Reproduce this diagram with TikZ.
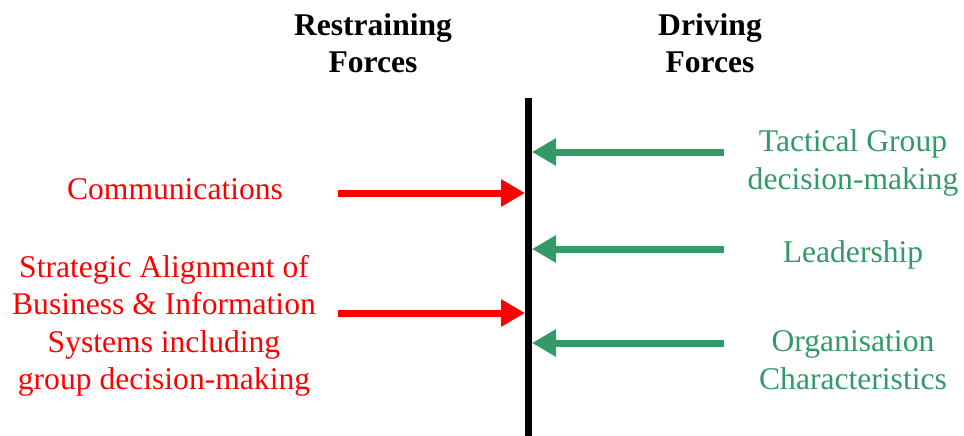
\documentclass[tikz,border=0pt]{standalone}
\usepackage{fontspec}
\setmainfont{Liberation Serif}
\usetikzlibrary{arrows.meta}
\definecolor{fgreen}{HTML}{339966}
\definecolor{fred}{HTML}{FF0000}
\begin{document}
\begin{tikzpicture}[x=1pt,y=-1pt,
  lbl/.style={font=\fontsize{31.6}{37.5}\selectfont, align=center, inner sep=0pt},
  head/.style={lbl, font=\fontsize{31.6}{37}\selectfont\bfseries},
  redlbl/.style={lbl, text=fred},
  greenlbl/.style={lbl, text=fgreen},
  force/.style={line width=7pt, -{Triangle[length=24pt,width=26pt]}},
  redarrow/.style={force, draw=fred},
  greenarrow/.style={force, draw=fgreen}]
\useasboundingbox (0,0) rectangle (964,436);
\node[head] (rf) at (373,43) {Restraining\\Forces};
\node[head] (df) at (710,43) {Driving\\Forces};
\coordinate (ltop) at (528,98);
\coordinate (lbot) at (528,436);
\draw[line width=7pt] (ltop) -- (lbot);
\node[redlbl] (comm) at (175,189) {Communications};
\node[redlbl] (strat) at (164,326) {Strategic Alignment of\\Business \& Information\\Systems including\\group decision-making};
\node[greenlbl] (tact) at (853,163) {Tactical Group\\decision-making};
\node[greenlbl] (lead) at (853,255) {Leadership};
\node[greenlbl] (org) at (853,360) {Organisation\\Characteristics};
\coordinate (r1s) at (338,193); \coordinate (r1e) at (525,193);
\coordinate (r2s) at (338,313); \coordinate (r2e) at (525,313);
\coordinate (g1s) at (724,152); \coordinate (g1e) at (532,152);
\coordinate (g2s) at (724,249); \coordinate (g2e) at (532,249);
\coordinate (g3s) at (724,343); \coordinate (g3e) at (532,343);
\draw[redarrow] (r1s) -- (r1e);
\draw[redarrow] (r2s) -- (r2e);
\draw[greenarrow] (g1s) -- (g1e);
\draw[greenarrow] (g2s) -- (g2e);
\draw[greenarrow] (g3s) -- (g3e);
\end{tikzpicture}
\end{document}
